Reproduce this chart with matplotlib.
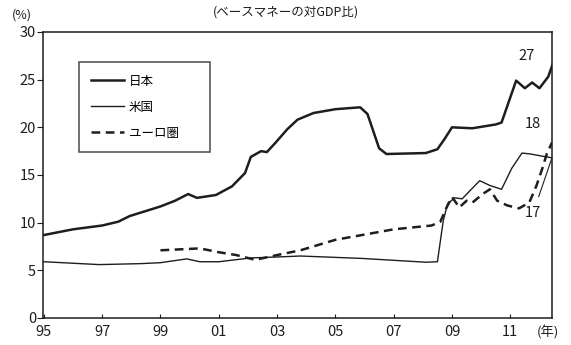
import numpy as np
import matplotlib
matplotlib.use("Agg")
import matplotlib.pyplot as plt

plt.rcParams['font.family'] = ['Noto Sans CJK JP', 'DejaVu Sans']

# base money / nominal GDP (%), decimal years
jp_year = [1995.0, 1996.0, 1997.0, 1997.55, 1997.95, 1999.0, 1999.5, 1999.95, 2000.25,
           2000.9, 2001.45, 2001.9, 2002.1, 2002.45, 2002.65, 2002.95, 2003.35, 2003.7,
           2004.25, 2005.0, 2005.85, 2006.1, 2006.5, 2006.75, 2008.1, 2008.5, 2008.75,
           2009.0, 2009.7, 2010.5, 2010.7, 2011.2, 2011.5, 2011.75, 2012.0, 2012.3, 2012.45]
jp_val = [8.7, 9.3, 9.7, 10.1, 10.7, 11.7, 12.3, 13.0, 12.6,
          12.9, 13.8, 15.2, 16.9, 17.5, 17.4, 18.4, 19.8, 20.8,
          21.5, 21.9, 22.1, 21.4, 17.8, 17.2, 17.3, 17.7, 18.8,
          20.0, 19.9, 20.3, 20.5, 24.9, 24.1, 24.7, 24.1, 25.3, 26.6]

us_year = [1995.0, 1996.9, 1998.3, 1999.0, 1999.9, 2000.35, 2001.0, 2002.1, 2003.0,
           2003.8, 2005.9, 2008.1, 2008.5, 2008.7, 2008.85, 2009.1, 2009.35, 2009.6,
           2009.95, 2010.3, 2010.7, 2011.05, 2011.4, 2011.7, 2012.05, 2012.43]
us_val = [5.9, 5.6, 5.7, 5.8, 6.2, 5.9, 5.9, 6.3, 6.4,
          6.5, 6.25, 5.85, 5.9, 10.2, 12.0, 12.6, 12.5, 13.3,
          14.4, 13.9, 13.5, 15.7, 17.3, 17.2, 17.0, 16.8]

eu_year = [1999.0, 2000.35, 2001.0, 2001.6, 2002.25, 2003.0, 2003.8, 2005.0, 2007.0,
           2008.3, 2008.6, 2008.8, 2009.0, 2009.25, 2009.5, 2009.7, 2010.05, 2010.3,
           2010.55, 2010.9, 2011.3, 2011.65, 2011.9, 2012.1, 2012.25, 2012.43]
eu_val = [7.1, 7.3, 6.9, 6.6, 6.1, 6.6, 7.1, 8.2, 9.3,
          9.7, 10.1, 11.5, 12.7, 11.6, 12.3, 12.1, 13.0, 13.5,
          12.3, 11.8, 11.5, 12.1, 13.9, 15.7, 17.2, 18.4]

xticks = [1995, 1997, 1999, 2001, 2003, 2005, 2007, 2009, 2011]
xlabels = ['95', '97', '99', '01', '03', '05', '07', '09', '11']
yticks = [0, 5, 10, 15, 20, 25, 30]

ink = '#1e1e1e'
fig = plt.figure(figsize=(5.71, 3.45), dpi=100)
ax = fig.add_axes([0.0753, 0.0783, 0.8914, 0.829])

ax.plot(jp_year, jp_val, color=ink, lw=1.8, label='日本')
ax.plot(us_year, us_val, color=ink, lw=1.0, label='米国')
ax.plot(eu_year, eu_val, color=ink, lw=1.8, dashes=(3.5, 2.2), label='ユーロ圏')

ax.set_xlim(1994.97, 2012.43)
ax.set_ylim(0, 30)
ax.set_xticks(xticks)
ax.set_xticklabels(xlabels)
ax.set_yticks(yticks)
ax.tick_params(axis='x', direction='in', length=3, width=0.8, labelsize=10.5, pad=5, colors=ink)
ax.tick_params(axis='y', direction='out', length=4, width=0.8, labelsize=10.5, pad=1, colors=ink)
for s in ax.spines.values():
    s.set_linewidth(1.1)
    s.set_color(ink)

# end-of-series labels
ax.text(2011.57, 27.5, f'{jp_val[-1]:.0f}', fontsize=10.5, color=ink, ha='center', va='center')
ax.text(2011.78, 20.3, f'{eu_val[-1]:.0f}', fontsize=10.5, color=ink, ha='center', va='center')
ax.annotate(f'{us_val[-1]:.0f}', xy=(us_year[-1], us_val[-1]), xytext=(2011.78, 11.0),
            fontsize=10.5, color=ink, ha='center', va='center',
            arrowprops=dict(arrowstyle='-', color=ink, lw=0.8, shrinkA=5, shrinkB=0))

leg = ax.legend(loc='upper left', bbox_to_anchor=(0.0707, 0.58, 0.257, 0.315), mode='expand',
                fontsize=9, handlelength=2.6, handletextpad=0.4, labelspacing=1.05,
                borderpad=1.0, frameon=True, fancybox=False, borderaxespad=0)
leg.get_frame().set_edgecolor(ink)
leg.get_frame().set_linewidth(1.1)

fig.text(0.50, 0.965, '(ベースマネーの対GDP比)', fontsize=9, color=ink, ha='center', va='center')
fig.text(0.038, 0.955, '(%)', fontsize=9, color=ink, ha='center', va='center')
fig.text(0.96, 0.035, '(年)', fontsize=9.5, color=ink, ha='center', va='center')

fig.savefig('out.png', dpi=100, facecolor='white')
